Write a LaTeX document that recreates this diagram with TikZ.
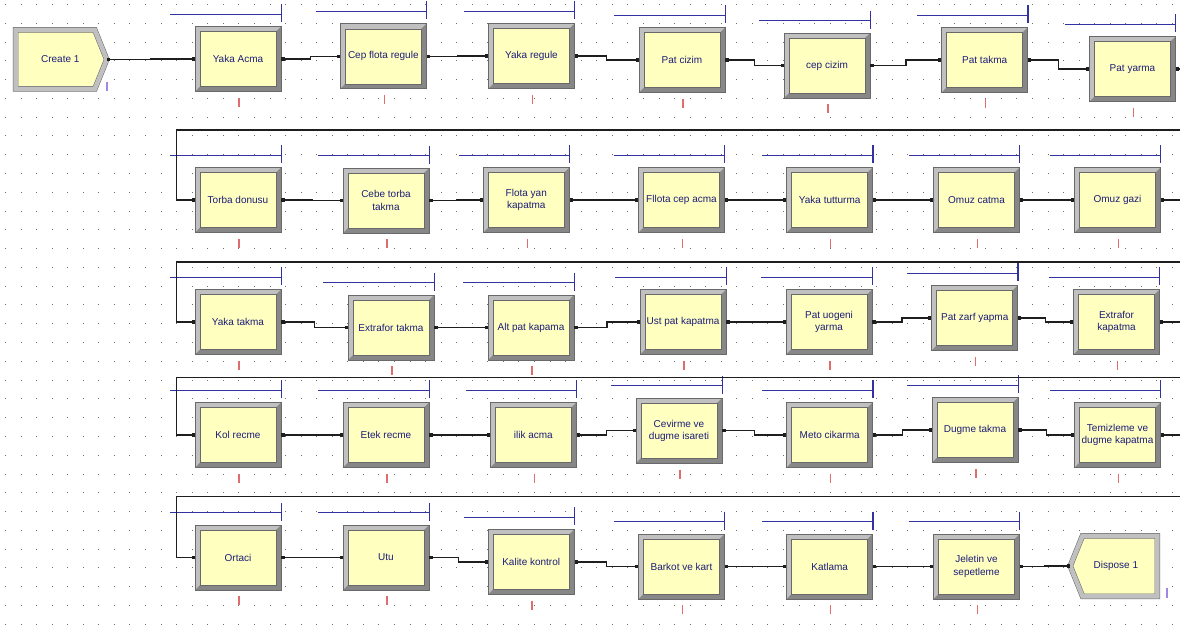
\documentclass[tikz,border=0pt]{standalone}
\usepackage{fontspec}
\setmainfont{Liberation Sans}
\usetikzlibrary{arrows.meta,positioning,calc,shapes.symbols}
\definecolor{boxfill}{RGB}{255,255,192}
\definecolor{framelite}{RGB}{192,192,192}
\definecolor{framedark}{RGB}{135,135,135}
\definecolor{frameedge}{RGB}{105,105,105}
\definecolor{boxtext}{RGB}{28,28,120}
\definecolor{connc}{RGB}{30,30,30}
\definecolor{qblue}{RGB}{50,50,160}
\definecolor{cntred}{RGB}{222,110,110}
\definecolor{termlila}{RGB}{160,135,225}
\definecolor{gridc}{RGB}{110,110,110}
\tikzset{
  procbox/.style={rectangle, draw=frameedge, line width=0.6pt, fill=framelite,
    minimum width=86pt, minimum height=65pt, inner sep=1pt, align=center,
    font=\fontsize{10}{12.5}\selectfont, text=boxtext,
    path picture={
      \coordinate (pp-sw) at (path picture bounding box.south west);
      \coordinate (pp-ne) at (path picture bounding box.north east);
      \fill[framedark] (pp-sw) -| (pp-ne) -- ++(-5pt,-5pt) |- ([shift={(5pt,5pt)}]pp-sw) -- cycle;
      \filldraw[fill=boxfill, draw=frameedge, line width=0.5pt]
        ([shift={(5pt,5pt)}]pp-sw) rectangle ([shift={(-5pt,-5pt)}]pp-ne);
    }},
  termbox/.style={signal, draw=frameedge, double=framelite, double distance=4.5pt,
    line width=0.5pt, fill=boxfill, signal pointer angle=136, inner sep=1pt,
    font=\fontsize{10}{12.5}\selectfont, text=boxtext},
  conn/.style={draw=connc, line width=1.3pt,
    {Square[length=3.2pt,width=3.2pt]}-{Square[length=3.2pt,width=3.2pt]}},
  qline/.style={draw=qblue, line width=1.1pt},
  cntmark/.style={draw=cntred, line width=1.5pt},
  termmark/.style={draw=termlila, line width=1.5pt},
}
\newcommand{\flowto}[2]{\draw[conn] (#1.east) -| ($(#1.east)!.5!(#2.west)$) |- (#2.west);}
\newcommand{\queuebar}[1]{%
  \draw[qline] ($(#1.north east)+(-111,-12)$) -- ($(#1.north east)+(0,-12)$);
  \draw[qline] ($(#1.north east)+(0,-22)$) -- ($(#1.north east)+(0,-4)$);}
\newcommand{\countmark}[1]{\draw[cntmark] ($(#1.south)+(1,6)$) -- ($(#1.south)+(1,15)$);}

\begin{document}
\begin{tikzpicture}[x=1pt, y=-1pt]
  \useasboundingbox (0,0) rectangle (1180,631);
  \fill[white] (0,0) rectangle (1180,631);
  \begin{scope}
  \clip (0,0) rectangle (1180,631);

  % grid
  \foreach \i in {0,...,75}
    \foreach \j in {0,...,33}
      \fill[gridc] (5+15.56*\i, 4+18.78*\j) rectangle ++(1,1);

  % row 1
  \node[termbox, signal to=east, minimum width=91pt, minimum height=59pt, anchor=east]
    (create) at (107, 59.5) {\hspace*{10pt}Create 1};
  \node[procbox] (yakaacma)   at ( 238,   59)   {Yaka Acma};
  \node[procbox] (cepflota)   at ( 383.3, 56.3) {Cep flota regule};
  \node[procbox] (yakaregule) at ( 531.5, 56)   {Yaka regule};
  \node[procbox] (patcizim)   at ( 682,   60)   {Pat cizim};
  \node[procbox] (cepcizim)   at ( 827,   65.5) {cep cizim};
  \node[procbox] (pattakma)   at ( 984.7, 60)   {Pat takma};
  \node[procbox] (patyarma)   at (1132.5, 69)   {Pat yarma};

  % row 2
  \node[procbox] (torba)      at ( 238,   200)   {Torba donusu};
  \node[procbox] (cebetorba)  at ( 386,   200.5) {Cebe torba\\takma};
  \node[procbox] (flotayan)   at ( 526.3, 200)   {Flota yan\\kapatma};
  \node[procbox] (fllotacep)  at ( 681.5, 200)   {Fllota cep acma};
  \node[procbox] (yakatut)    at ( 829.7, 200)   {Yaka tutturma};
  \node[procbox] (omuzcatma)  at ( 976.5, 200)   {Omuz catma};
  \node[procbox] (omuzgazi)   at (1117.5, 200)   {Omuz gazi};

  % row 3
  \node[procbox] (yakatakma)   at ( 238,   322)   {Yaka takma};
  \node[procbox] (extrafortak) at ( 391,   327.5) {Extrafor takma};
  \node[procbox] (altpat)      at ( 531,   327.5) {Alt pat kapama};
  \node[procbox] (ustpat)      at ( 683,   322)   {Ust pat kapatma};
  \node[procbox] (patuogeni)   at ( 829,   322)   {Pat uogeni\\yarma};
  \node[procbox] (patzarf)     at ( 974.7, 318)   {Pat zarf yapma};
  \node[procbox] (extraforkap) at (1116.5, 322)   {Extrafor\\kapatma};

  % row 4
  \node[procbox] (kolrecme)   at ( 238,   435)   {Kol recme};
  \node[procbox] (etekrecme)  at ( 386,   435)   {Etek recme};
  \node[procbox] (ilikacma)   at ( 533.3, 435)   {ilik acma};
  \node[procbox] (cevirme)    at ( 679,   430.7) {Cevirme ve\\dugme isareti};
  \node[procbox] (meto)       at ( 829.7, 435)   {Meto cikarma};
  \node[procbox] (dugme)      at ( 975,   430)   {Dugme takma};
  \node[procbox] (temizleme)  at (1117.5, 435)   {Temizleme ve\\dugme kapatma};

  % row 5
  \node[procbox] (ortaci)  at ( 238,   557.5) {Ortaci};
  \node[procbox] (utu)     at ( 386,   557.5) {Utu};
  \node[procbox] (kalite)  at ( 531.2, 562)   {Kalite kontrol};
  \node[procbox] (barkot)  at ( 681.5, 566.5) {Barkot ve kart};
  \node[procbox] (katlama) at ( 829.7, 566.5) {Katlama};
  \node[procbox] (jeletin) at ( 976.5, 566.5) {Jeletin ve\\sepetleme};
  \node[termbox, signal to=west, minimum width=87pt, minimum height=60.5pt, anchor=west]
    (dispose) at (1070, 566) {Dispose 1\hspace*{8pt}};

  % queue bars and counters
  \foreach \n in {yakaacma, cepflota, yakaregule, patcizim, cepcizim, pattakma, patyarma,
                  torba, cebetorba, flotayan, fllotacep, yakatut, omuzcatma, omuzgazi,
                  yakatakma, extrafortak, altpat, ustpat, patuogeni, patzarf, extraforkap,
                  kolrecme, etekrecme, ilikacma, cevirme, meto, dugme, temizleme,
                  ortaci, utu, kalite, barkot, katlama, jeletin}
    {\queuebar{\n}\countmark{\n}}
  \draw[termmark] ($(create.east)+(0,23)$) -- ($(create.east)+(0,32)$);
  \draw[termmark] ($(dispose.east)+(9.5,22)$) -- ($(dispose.east)+(9.5,32)$);

  % connections
  \flowto{create}{yakaacma}
  \flowto{yakaacma}{cepflota}
  \flowto{cepflota}{yakaregule}
  \flowto{yakaregule}{patcizim}
  \flowto{patcizim}{cepcizim}
  \flowto{cepcizim}{pattakma}
  \flowto{pattakma}{patyarma}

  \flowto{torba}{cebetorba}
  \flowto{cebetorba}{flotayan}
  \flowto{flotayan}{fllotacep}
  \flowto{fllotacep}{yakatut}
  \flowto{yakatut}{omuzcatma}
  \flowto{omuzcatma}{omuzgazi}

  \flowto{yakatakma}{extrafortak}
  \flowto{extrafortak}{altpat}
  \flowto{altpat}{ustpat}
  \flowto{ustpat}{patuogeni}
  \flowto{patuogeni}{patzarf}
  \flowto{patzarf}{extraforkap}

  \flowto{kolrecme}{etekrecme}
  \flowto{etekrecme}{ilikacma}
  \flowto{ilikacma}{cevirme}
  \flowto{cevirme}{meto}
  \flowto{meto}{dugme}
  \flowto{dugme}{temizleme}

  \flowto{ortaci}{utu}
  \flowto{utu}{kalite}
  \flowto{kalite}{barkot}
  \flowto{barkot}{katlama}
  \flowto{katlama}{jeletin}
  \flowto{jeletin}{dispose}

  % row wraps
  \coordinate (e1) at (1195, 130);   \coordinate (r1) at (176.7, 130);
  \coordinate (e2) at (1195, 262);   \coordinate (r2) at (176.7, 262);
  \coordinate (e3) at (1195, 377.5); \coordinate (r3) at (176.7, 377.5);
  \coordinate (e4) at (1195, 496.5); \coordinate (r4) at (176.7, 496.5);
  \draw[conn] (patyarma.east) -| (e1) -- (r1) |- (torba.west);
  \draw[conn] (omuzgazi.east) -| (e2) -- (r2) |- (yakatakma.west);
  \draw[conn] (extraforkap.east) -| (e3) -- (r3) |- (kolrecme.west);
  \draw[conn] (temizleme.east) -| (e4) -- (r4) |- (ortaci.west);
  \end{scope}
\end{tikzpicture}
\end{document}
